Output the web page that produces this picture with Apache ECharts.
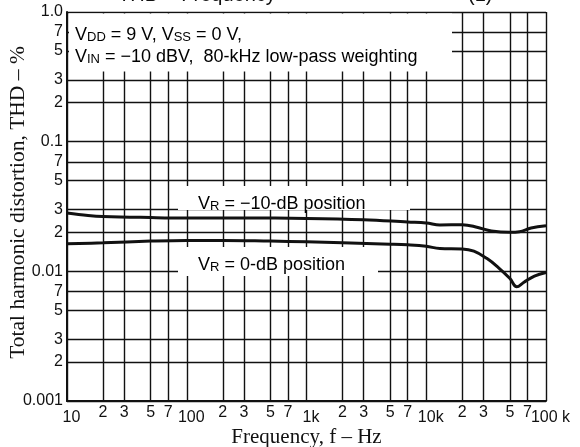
<!DOCTYPE html>
<html><head><meta charset="utf-8">
<script src="https://cdn.jsdelivr.net/npm/echarts@6/dist/echarts.min.js"></script>
<style>html,body{margin:0;padding:0;background:#fff}#c{width:580px;height:447px}</style>
</head><body><div id="c"></div>
<script>
// ---- data ----
const freqMinus10 = [10,15,20,50,100,300,1000,3000,7000,10000,13000,20000,27000,35000,50000,60000,75000,100000];
const thdMinus10  = [0.0282,0.0270,0.0265,0.0260,0.0258,0.0258,0.0256,0.0250,0.0240,0.0236,0.0228,0.0229,0.0218,0.0205,0.0200,0.0202,0.0216,0.0225];
const freq0 = [10,20,50,100,200,500,1000,2000,5000,7000,10000,13000,20000,25000,32000,40000,50000,57000,65000,80000,100000];
const thd0  = [0.0163,0.0166,0.0171,0.0173,0.0173,0.0171,0.0169,0.0166,0.0162,0.0160,0.0156,0.0150,0.0149,0.0143,0.0126,0.0107,0.0088,0.0076,0.0082,0.0092,0.0098];
const xTicks = [10,20,30,50,70,100,200,300,500,700,1000,2000,3000,5000,7000,10000,20000,30000,50000,70000,100000];
const xTickLabels = ['10','2','3','5','7','100','2','3','5','7','1k','2','3','5','7','10k','2','3','5','7','100 k'];
const yTicks = [0.001,0.002,0.003,0.005,0.007,0.01,0.02,0.03,0.05,0.07,0.1,0.2,0.3,0.5,0.7,1];
const yTickLabels = ['0.001','2','3','5','7','0.01','2','3','5','7','0.1','2','3','5','7','1.0'];

const black = '#111';
const sans = 'Liberation Sans, Arial, sans-serif';
const serif = 'Liberation Serif, Times New Roman, serif';
function nearest(arr, v){ let b=0,bd=1e9; arr.forEach((a,i)=>{const d=Math.abs(Math.log10(a)-Math.log10(v)); if(d<bd){bd=d;b=i;}}); return b; }
const isDec = v => Math.abs(Math.log10(v) - Math.round(Math.log10(v))) < 1e-6;
const xMinor = xTicks.filter(v=>!isDec(v));
const xMajor = xTicks.filter(isDec);

const chart = echarts.init(document.getElementById('c'), null, {renderer:'canvas'});
const vRich = {
  v:{fontFamily:sans,fontSize:18,color:black,lineHeight:25,verticalAlign:'bottom'},
  s:{fontFamily:sans,fontSize:13,color:black,lineHeight:15,verticalAlign:'bottom'}
};
const option = {
  animation:false,
  backgroundColor:'#fff',
  grid:{left:67,right:34,top:12,bottom:46,containLabel:false,outerBoundsMode:'none'},
  xAxis:[{
    type:'log', logBase:10, min:10, max:100000, position:'bottom',
    axisLine:{show:true,onZero:false,lineStyle:{color:black,width:2}},
    axisTick:{show:false, customValues:xTicks},
    splitLine:{show:true,lineStyle:{color:black,width:1.4}},
    axisLabel:{customValues:xMinor, margin:4, fontSize:16, color:black, fontFamily:sans,
      formatter:v=>xTickLabels[nearest(xTicks,v)]},
    name:'Frequency, f – Hz', nameLocation:'middle', nameGap:26, nameMoveOverlap:false,
    nameTextStyle:{fontFamily:serif,fontSize:21,color:black}
  },{
    type:'log', logBase:10, min:10, max:100000, position:'bottom',
    axisLine:{show:false}, splitLine:{show:false},
    axisTick:{show:false, customValues:xMajor},
    axisLabel:{customValues:xMajor, margin:9, padding:[0,0,0,9], fontSize:16, color:black, fontFamily:sans,
      formatter:v=>xTickLabels[nearest(xTicks,v)]}
  }],
  yAxis:{
    type:'log', logBase:10, min:0.001, max:1,
    axisLine:{show:true,onZero:false,lineStyle:{color:black,width:2}},
    axisTick:{show:false, customValues:yTicks},
    splitLine:{show:true,lineStyle:{color:black,width:1.4}},
    axisLabel:{customValues:yTicks, margin:4, fontSize:16, color:black, fontFamily:sans,
      formatter:v=>yTickLabels[nearest(yTicks,v)]},
    name:'Total harmonic distortion, THD – %', nameLocation:'middle', nameGap:38, nameMoveOverlap:false,
    nameTextStyle:{fontFamily:serif,fontSize:21.5,color:black,padding:[0,0,0,8]}
  },
  series:[
    {type:'line', name:'VR = −10-dB position', xAxisIndex:0, z:5, smooth:0.4, symbol:'none',
     data:freqMinus10.map((f,i)=>[f,thdMinus10[i]]), lineStyle:{color:black,width:3}},
    {type:'line', name:'VR = 0-dB position', xAxisIndex:0, z:5, smooth:0.4, symbol:'none',
     data:freq0.map((f,i)=>[f,thd0[i]]), lineStyle:{color:black,width:3}}
  ],
  graphic:{elements:[
    {type:'rect', z:3, shape:{x:69,y:13.5,width:383,height:58}, style:{fill:'#fff'}},
    {type:'rect', z:3, shape:{x:178,y:186,width:232,height:24}, style:{fill:'#fff'}},
    {type:'rect', z:3, shape:{x:178,y:247,width:200,height:29}, style:{fill:'#fff'}},
    {type:'text', z:6, x:75, y:19, style:{text:'{v|V}{s|DD}{v| = 9 V, V}{s|SS}{v| = 0 V,}', rich:vRich}},
    {type:'text', z:6, x:75, y:41, style:{text:'{v|V}{s|IN}{v| = −10 dBV,  80-kHz low-pass weighting}', rich:vRich}},
    {type:'text', z:6, x:198, y:188, style:{text:'{v|V}{s|R}{v| = −10-dB position}', rich:vRich}},
    {type:'text', z:6, x:198, y:249, style:{text:'{v|V}{s|R}{v| = 0-dB position}', rich:vRich}},
    {type:'text', z:6, x:118, y:5, style:{text:'THD – Frequency', font:'20px Liberation Sans', fill:black, verticalAlign:'bottom'}},
    {type:'text', z:6, x:468, y:5, style:{text:'(1)', font:'20px Liberation Sans', fill:black, verticalAlign:'bottom'}}
  ]}
};
chart.setOption(option);
</script>
</body></html>
